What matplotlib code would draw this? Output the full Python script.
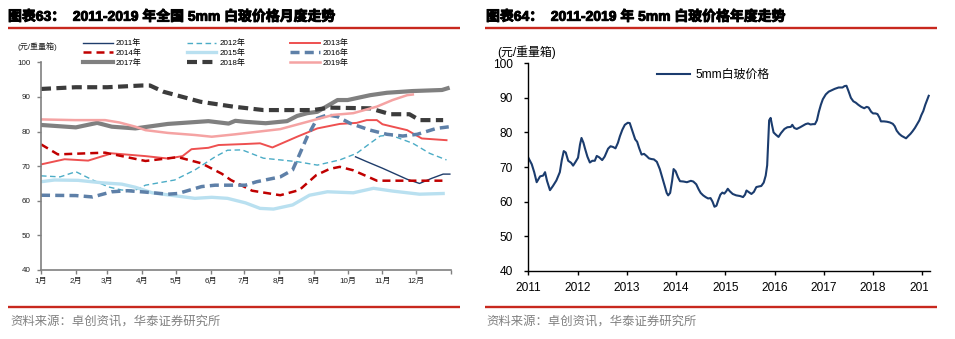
import matplotlib
matplotlib.use('Agg')
import matplotlib.pyplot as plt
import matplotlib.patheffects as pe
from matplotlib.lines import Line2D
from matplotlib.transforms import Bbox, TransformedBbox, blended_transform_factory

plt.rcParams['font.family'] = ['Liberation Sans', 'Noto Sans CJK SC']

# ---------------- data: left chart (day of year, price) ----------------
month_labels = ['1月', '2月', '3月', '4月', '5月', '6月', '7月', '8月', '9月', '10月', '11月', '12月']
month_starts = [0, 31, 59, 90, 120, 151, 181, 212, 243, 273, 304, 334]

d2011 = [280, 290, 304, 326, 337, 348, 358, 364]
v2011 = [72.7, 71.3, 69.4, 66.2, 65.0, 66.5, 67.7, 67.7]

d2012 = [0, 17, 31, 46, 60, 72, 84, 93, 119, 137, 155, 166, 179, 198, 213, 228, 246, 266, 281, 293, 302, 311, 331, 346, 361]
v2012 = [67.2, 66.9, 68.4, 66.0, 64.0, 63.1, 63.1, 64.5, 66.0, 68.9, 72.7, 74.6, 74.7, 72.3, 71.8, 71.3, 70.3, 71.8, 73.7, 76.6, 78.7, 79.0, 76.6, 73.7, 71.8]

d2013 = [0, 21, 42, 63, 93, 113, 126, 134, 149, 158, 182, 195, 206, 228, 246, 266, 281, 290, 299, 304, 313, 326, 339, 361]
v2013 = [70.5, 72.0, 71.6, 73.7, 72.9, 72.2, 72.9, 74.9, 75.3, 76.1, 76.4, 76.6, 75.4, 78.5, 80.9, 82.2, 82.5, 83.3, 83.3, 82.1, 81.4, 80.4, 78.0, 77.5]

d2014 = [0, 15, 57, 93, 122, 143, 161, 169, 188, 213, 230, 245, 257, 266, 278, 299, 320, 361]
v2014 = [76.3, 73.4, 73.9, 71.5, 72.6, 70.8, 67.8, 66.0, 62.9, 61.6, 63.1, 67.4, 69.2, 69.8, 68.8, 65.8, 65.8, 65.8]

d2015 = [0, 12, 33, 54, 72, 84, 99, 137, 152, 166, 182, 195, 207, 224, 239, 255, 278, 296, 313, 337, 358]
v2015 = [65.5, 66.0, 65.9, 65.2, 64.8, 63.9, 62.3, 60.7, 61.0, 60.7, 59.4, 57.8, 57.6, 58.8, 61.6, 62.6, 62.3, 63.6, 62.8, 61.9, 62.1]

d2016 = [0, 31, 46, 63, 77, 93, 113, 122, 143, 155, 182, 192, 213, 224, 228, 237, 246, 255, 264, 275, 293, 308, 322, 335, 352, 364]
v2016 = [61.6, 61.5, 61.1, 62.6, 62.9, 62.5, 61.9, 62.1, 64.1, 64.5, 64.5, 65.5, 66.9, 68.9, 71.8, 78.5, 83.8, 84.8, 84.3, 82.4, 80.4, 79.2, 78.7, 79.2, 80.9, 81.4]

d2017 = [0, 31, 50, 63, 84, 113, 149, 167, 173, 182, 200, 219, 228, 237, 246, 264, 273, 293, 308, 331, 357, 362]
v2017 = [81.9, 81.2, 82.5, 81.4, 80.9, 82.2, 83.0, 82.3, 83.1, 82.8, 82.4, 83.0, 84.5, 85.3, 85.7, 89.1, 89.1, 90.5, 91.2, 91.7, 92.0, 92.5]

d2018 = [0, 31, 59, 90, 97, 109, 142, 171, 198, 242, 257, 293, 311, 328, 337, 358]
v2018 = [92.3, 92.8, 92.8, 93.3, 93.3, 91.5, 88.6, 87.2, 86.2, 86.2, 86.9, 86.7, 85.0, 85.0, 83.3, 83.3]

d2019 = [0, 30, 57, 70, 84, 93, 113, 137, 152, 173, 213, 237, 260, 278, 299, 313, 326, 331]
v2019 = [83.5, 83.3, 83.3, 82.6, 81.4, 80.4, 79.6, 79.0, 78.5, 79.2, 80.7, 82.8, 84.8, 85.3, 87.2, 89.1, 90.5, 90.7]

# ---------------- data: right chart (decimal year, price) ----------------
yr = [2011.00, 2011.07, 2011.12, 2011.17, 2011.24, 2011.30, 2011.34, 2011.38, 2011.44, 2011.50,
      2011.57, 2011.64, 2011.68, 2011.72, 2011.76, 2011.81, 2011.87, 2011.91, 2011.96, 2012.01,
      2012.05, 2012.08, 2012.12, 2012.15, 2012.20, 2012.25, 2012.30, 2012.35, 2012.39, 2012.44,
      2012.50, 2012.55, 2012.62, 2012.67, 2012.72, 2012.77, 2012.82, 2012.86, 2012.91, 2012.96,
      2013.02, 2013.06, 2013.10, 2013.13, 2013.17, 2013.21, 2013.25, 2013.30, 2013.35, 2013.40,
      2013.45, 2013.50, 2013.55, 2013.61, 2013.67, 2013.72, 2013.77, 2013.81, 2013.84, 2013.88,
      2013.92, 2013.95, 2013.99, 2014.04, 2014.08, 2014.15, 2014.22, 2014.30, 2014.35, 2014.41,
      2014.46, 2014.50, 2014.55, 2014.60, 2014.65, 2014.70, 2014.74, 2014.78, 2014.82, 2014.86,
      2014.90, 2014.94, 2014.98, 2015.02, 2015.05, 2015.09, 2015.15, 2015.22, 2015.30, 2015.36,
      2015.40, 2015.43, 2015.48, 2015.53, 2015.58, 2015.63, 2015.69, 2015.73, 2015.78, 2015.82,
      2015.85, 2015.87, 2015.89, 2015.92, 2015.95, 2015.98, 2016.03, 2016.08, 2016.13, 2016.20,
      2016.26, 2016.33, 2016.36, 2016.40, 2016.45, 2016.52, 2016.57, 2016.63, 2016.68, 2016.73,
      2016.78, 2016.82, 2016.86, 2016.90, 2016.94, 2016.98, 2017.04, 2017.10, 2017.16, 2017.22,
      2017.30, 2017.38, 2017.42, 2017.46, 2017.50, 2017.55, 2017.60, 2017.65, 2017.70, 2017.76,
      2017.82, 2017.87, 2017.91, 2017.96, 2018.00, 2018.05, 2018.09, 2018.13, 2018.16, 2018.22,
      2018.28, 2018.34, 2018.40, 2018.44, 2018.48, 2018.53, 2018.58, 2018.63, 2018.67, 2018.71,
      2018.76, 2018.80, 2018.85, 2018.90, 2018.94, 2018.98, 2019.02, 2019.06, 2019.10, 2019.13]
price = [72.7, 70.8, 68.5, 65.6, 67.3, 67.5, 68.5, 66.0, 63.3, 64.5,
         66.1, 68.5, 72.0, 74.6, 74.2, 71.8, 71.2, 70.4, 71.5, 72.7,
         76.5, 78.4, 77.0, 75.4, 73.0, 71.3, 71.8, 71.8, 73.2, 72.8,
         72.0, 73.0, 75.3, 76.0, 75.8, 75.4, 77.0, 78.9, 80.8, 82.2,
         82.8, 82.7, 81.0, 79.8, 78.0, 77.3, 75.5, 73.6, 73.8, 73.2,
         72.5, 72.3, 72.2, 71.5, 69.4, 67.0, 64.5, 62.5, 61.8, 62.5,
         66.0, 69.4, 68.8, 67.0, 65.9, 65.8, 65.6, 66.0, 65.8, 65.0,
         63.5, 62.5, 61.8, 61.3, 60.9, 61.0, 60.0, 58.5, 58.8, 60.5,
         62.0, 62.6, 62.3, 63.0, 63.7, 63.0, 62.2, 61.8, 61.6, 61.3,
         62.0, 63.2, 62.7, 62.2, 62.8, 64.2, 64.4, 64.5, 65.5, 67.5,
         70.5, 77.0, 83.5, 84.2, 82.0, 80.0, 79.3, 78.7, 79.8, 81.0,
         81.5, 81.6, 82.2, 81.3, 81.0, 81.5, 81.9, 82.4, 82.6, 82.3,
         82.4, 82.4, 83.5, 86.0, 88.0, 89.6, 91.0, 91.8, 92.2, 92.6,
         93.0, 93.0, 93.4, 93.5, 92.0, 90.0, 89.0, 88.6, 88.0, 87.4,
         87.0, 87.4, 87.2, 86.0, 85.5, 85.5, 85.3, 84.3, 83.2, 83.2,
         83.1, 82.9, 82.5, 81.8, 80.5, 79.6, 79.0, 78.6, 78.3, 78.9,
         79.6, 80.3, 81.3, 82.5, 83.5, 85.0, 86.2, 88.0, 89.5, 90.6]
year_ticks = [2011, 2012, 2013, 2014, 2015, 2016, 2017, 2018, 2019]
y_ticks = [40, 50, 60, 70, 80, 90, 100]

# ---------------- layout helpers ----------------
W, H = 955, 339
fig = plt.figure(figsize=(W / 100, H / 100), dpi=100)


def fx(px):
    return px / W


def fy(py):
    return 1 - py / H


RED = '#C8281E'
for x0, x1 in [(8, 460), (485, 937)]:
    for yy in (27.7, 306.7):
        fig.add_artist(Line2D([fx(x0), fx(x1)], [fy(yy), fy(yy)], transform=fig.transFigure,
                              color=RED, lw=1.7, solid_capstyle='butt'))

bold_fx = [pe.withStroke(linewidth=0.7, foreground='black')]
fig.text(fx(8), fy(16.7), '图表63：  2011-2019 年全国 5mm 白玻价格月度走势', fontsize=10,
         fontweight='bold', va='center', ha='left', color='black', path_effects=bold_fx)
fig.text(fx(486), fy(16.7), '图表64：  2011-2019 年 5mm 白玻价格年度走势', fontsize=10,
         fontweight='bold', va='center', ha='left', color='black', path_effects=bold_fx)
for xs in (10, 486):
    fig.text(fx(xs), fy(322), '资料来源：卓创资讯，华泰证券研究所', fontsize=8.9,
             va='center', ha='left', color='#808080')

# ---------------- left chart ----------------
axL = fig.add_axes([fx(41), fy(270), fx(451) - fx(41), fy(62.3) - fy(270)])
series = [
    ('2011年', d2011, v2011, dict(color='#1F3D6B', lw=1.0, ls='-')),
    ('2012年', d2012, v2012, dict(color='#4BACC6', lw=1.0, dashes=(4, 2.5))),
    ('2013年', d2013, v2013, dict(color='#EE5050', lw=1.4, ls='-')),
    ('2014年', d2014, v2014, dict(color='#C00000', lw=1.8, dashes=(3.2, 2.0))),
    ('2015年', d2015, v2015, dict(color='#B9E0F0', lw=2.4, ls='-')),
    ('2016年', d2016, v2016, dict(color='#5E80A8', lw=2.5, dashes=(2.6, 1.5))),
    ('2017年', d2017, v2017, dict(color='#808080', lw=3.0, ls='-')),
    ('2018年', d2018, v2018, dict(color='#3C3C3C', lw=3.0, dashes=(2.4, 1.3))),
    ('2019年', d2019, v2019, dict(color='#F5A3A3', lw=1.8, ls='-')),
]
handles = {}
for name, d, v, st in series:
    ln, = axL.plot(d, v, label=name, **st)
    handles[name] = ln

axL.set_xlim(0, 365)
axL.set_ylim(40, 100)
axL.set_xticks(month_starts + [365])
axL.set_xticklabels(month_labels + [''])
axL.set_yticks(y_ticks)
for s in ('top', 'right'):
    axL.spines[s].set_visible(False)
for s in ('left', 'bottom'):
    axL.spines[s].set_color('#808080')
    axL.spines[s].set_linewidth(1.2)
axL.tick_params(axis='both', direction='out', length=3, width=1, color='#808080',
                labelsize=5.8, labelcolor='#222222')
axL.tick_params(axis='y', pad=4.5)
axL.tick_params(axis='x', pad=3)

order = ['2011年', '2014年', '2017年', '2012年', '2015年', '2018年', '2013年', '2016年', '2019年']
leg = axL.legend([handles[n] for n in order], order, ncol=3, loc='upper left',
                 bbox_to_anchor=(fx(83), fy(39.5)), bbox_transform=fig.transFigure,
                 frameon=False, fontsize=5.8, handlelength=3.7, handletextpad=0.35,
                 columnspacing=5.6, labelspacing=0.22, borderpad=0, borderaxespad=0)
fig.text(fx(17), fy(47), '(元/重量箱)', fontsize=5.8, va='center', ha='left', color='#222222')

# ---------------- right chart ----------------
axR = fig.add_axes([fx(528.3), fy(270.7), fx(930) - fx(528.3), fy(63.3) - fy(270.7)])
lnR, = axR.plot(yr, price, color='#1B3C6E', lw=1.5, label='5mm白玻价格')
axR.set_xlim(2011, 2019.156)
axR.set_ylim(40, 100)
axR.set_xticks(year_ticks)
axR.set_xticklabels([str(y) for y in year_ticks])
axR.set_yticks(y_ticks)
for s in ('top', 'right'):
    axR.spines[s].set_visible(False)
for s in ('left', 'bottom'):
    axR.spines[s].set_color('black')
    axR.spines[s].set_linewidth(1.0)
axR.tick_params(axis='both', direction='out', length=3, width=1, color='black',
                labelsize=8.6, labelcolor='black')
axR.tick_params(axis='y', pad=8)
axR.tick_params(axis='x', pad=5)
axR.legend(loc='upper left', bbox_to_anchor=(fx(657), fy(69)), bbox_transform=fig.transFigure,
           frameon=False, fontsize=8.6, handlelength=2.8, handletextpad=0.4, borderpad=0,
           borderaxespad=0)
fig.text(fx(497), fy(52), '(元/重量箱)', fontsize=8.6, va='center', ha='left', color='black')

# clip x tick labels at the right edge of the right axes (as in the reference)
clip_tr = blended_transform_factory(axR.transAxes, fig.transFigure)
clipbox = TransformedBbox(Bbox([[-0.2, 0.0], [0.994, 1.0]]), clip_tr)
for tk in axR.xaxis.get_major_ticks():
    tk.label1.set_clip_box(clipbox)
    tk.label1.set_clip_on(True)

fig.savefig('out.png', dpi=100)
